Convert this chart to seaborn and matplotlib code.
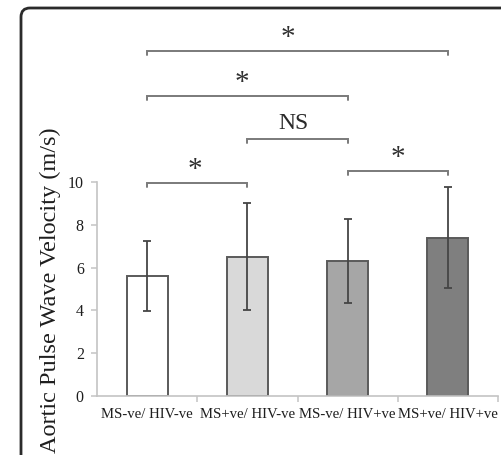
import matplotlib
matplotlib.use("Agg")
import matplotlib.pyplot as plt
import seaborn as sns
import pandas as pd
from matplotlib.patches import FancyBboxPatch
from matplotlib.transforms import IdentityTransform

categories = ["MS-ve/ HIV-ve", "MS+ve/ HIV-ve", "MS-ve/ HIV+ve", "MS+ve/ HIV+ve"]
means = [5.6, 6.5, 6.3, 7.4]
sds = [1.63, 2.5, 1.95, 2.35]
colors = ["#ffffff", "#d9d9d9", "#a6a6a6", "#7f7f7f"]
y_ticks = [0, 2, 4, 6, 8, 10]
# comparisons: (group i, group j, bracket height, label, label x)
comp_i = [0, 0, 1, 0, 2]
comp_j = [3, 2, 2, 1, 3]
comp_y = [16.1, 14.0, 12.0, 9.95, 10.5]
comp_label = ["*", "*", "NS", "*", "*"]
comp_lx = [1.4, 0.95, 1.46, 0.48, 2.5]
ylabel = "Aortic Pulse Wave Velocity (m/s)"

sns.set_theme(style="white")
plt.rcParams["font.family"] = ["Liberation Serif", "DejaVu Serif"]

W, H = 501, 455
fig = plt.figure(figsize=(W / 100, H / 100), dpi=100)
ax = fig.add_axes([97 / W, 1 - 396 / H, 401 / W, 396 / H])
ax.patch.set_alpha(0)

df = pd.DataFrame({"group": categories, "value": means})
sns.barplot(data=df, x="group", y="value", hue="group", palette=colors,
            width=0.41, edgecolor="#5a5a5a", linewidth=1.4, saturation=1,
            legend=False, errorbar=None, ax=ax)
ax.errorbar(range(len(categories)), means, yerr=sds, fmt="none",
            ecolor="#454545", elinewidth=1.3, capsize=2.6, capthick=1.3)

ax.set_xlim(-0.5, 3.5)
ax.set_ylim(0, 18.5)
ax.set_yticks(y_ticks)
ax.set_xlabel("")
ax.set_ylabel("")
for s in ["top", "right"]:
    ax.spines[s].set_visible(False)
for s in ["left", "bottom"]:
    ax.spines[s].set_color("#c4c4c4")
    ax.spines[s].set_linewidth(1.2)
ax.spines["left"].set_bounds(0, 10)
ax.tick_params(axis="y", left=True, length=4.5, width=1.1, color="#c4c4c4",
               labelsize=11.5, labelcolor="#1e1e1e", pad=5)
ax.tick_params(axis="x", which="major", length=0, labelsize=10.6,
               labelcolor="#1e1e1e", pad=9)
ax.set_xticks([0.5, 1.5, 2.5, 3.5], minor=True)
ax.tick_params(axis="x", which="minor", bottom=True, length=4, width=1.1,
               color="#c4c4c4")

for i, j, y, lab, lx in zip(comp_i, comp_j, comp_y, comp_label, comp_lx):
    ax.plot([i, i, j, j], [y - 0.17, y, y, y - 0.17], color="#7a7a7a",
            lw=1.4, clip_on=False, solid_joinstyle="miter")
    if lab == "*":
        ax.text(lx, y + 0.62, lab, ha="center", va="center", fontsize=21,
                color="#303030", clip_on=False)
    else:
        ax.text(lx, y + 0.72, lab, ha="center", va="center", fontsize=17,
                color="#2a2a2a", clip_on=False)

fig.text(50 / W, 1 - 290 / H, ylabel, rotation=90, ha="center", va="center",
         fontsize=17.5, color="#1e1e1e")

border = FancyBboxPatch((21, -40), 620, H - 8 + 40,
                        boxstyle="round,pad=0,rounding_size=9",
                        transform=IdentityTransform(), fill=False,
                        ec="#2b2b2b", lw=2)
fig.add_artist(border)

fig.savefig("out.png", dpi=100)
